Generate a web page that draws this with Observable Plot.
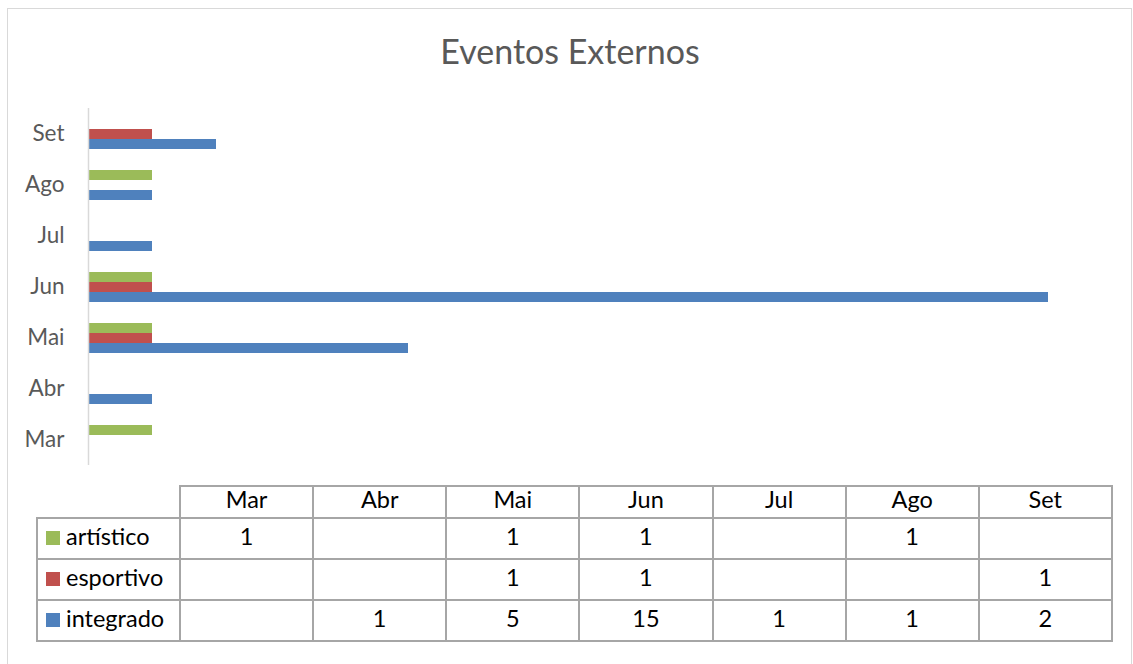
<!DOCTYPE html>
<html>
<head>
<meta charset="utf-8">
<script src="https://cdn.jsdelivr.net/npm/d3@7"></script>
<script src="https://cdn.jsdelivr.net/npm/@observablehq/plot@0.6"></script>
<style>
  html, body { margin: 0; padding: 0; background: #fff; }
  body { width: 1133px; height: 664px; position: relative; overflow: hidden; font-family: Lato, "Open Sans", sans-serif; }
  #frame { position: absolute; left: 7px; top: 8px; width: 1125px; height: 670px; border: 1.5px solid #d9d9d9; box-sizing: border-box; }
  #title { position: absolute; left: 7px; width: 1126px; top: 30px; text-align: center; font-size: 34px; color: #595959; }
  #chart { position: absolute; left: 0; top: 108px; }
  #tbl { position: absolute; left: 36px; top: 485px; border-collapse: collapse; font-size: 23.5px; color: #000; }
  #tbl td { border: 2px solid #a6a6a6; text-align: center; padding: 0 0 4px 0; box-sizing: border-box; line-height: 1; }
  #tbl tr.h td { height: 32px; }
  #tbl tr.r td { height: 41px; }
  #tbl td.blank { border: none; }
  #tbl td.lab { text-align: left; padding-left: 8px; white-space: nowrap; }
  .sw { display: inline-block; width: 14px; height: 14px; margin-right: 6px; vertical-align: 0px; }
</style>
</head>
<body>
<div id="frame"></div>
<div id="title">Eventos Externos</div>
<div id="chart"></div>
<table id="tbl"></table>
<script>
const months = ["Mar", "Abr", "Mai", "Jun", "Jul", "Ago", "Set"];
const seriesNames = ["artístico", "esportivo", "integrado"];
const seriesColors = ["#9bbb59", "#c0504d", "#4f81bd"];
const artistico = [1, null, 1, 1, null, 1, null];
const esportivo = [null, null, 1, 1, null, null, 1];
const integrado = [null, 1, 5, 15, 1, 1, 2];

const seriesValues = [artistico, esportivo, integrado];
const rows = [];
seriesNames.forEach((s, si) => {
  months.forEach((m, mi) => {
    const v = seriesValues[si][mi];
    if (v != null) rows.push({month: m, series: s, value: v});
  });
});

const chart = Plot.plot({
  width: 1133,
  height: 357,
  marginLeft: 88,
  marginRight: 21,
  marginTop: 0,
  marginBottom: 0,
  style: {fontFamily: "Lato, 'Open Sans', sans-serif", fontSize: "22.5px", color: "#595959", background: "transparent"},
  fy: {domain: months.slice().reverse(), padding: 0, axis: "left", tickSize: 0, tickPadding: 24, label: null},
  y: {domain: seriesNames, axis: null, paddingInner: 0, paddingOuter: 0.89},
  x: {domain: [0, 16], axis: null},
  color: {domain: seriesNames, range: seriesColors},
  marks: [
    Plot.barX(rows, {fy: "month", y: "series", x: "value", fill: "series"}),
    Plot.ruleX([0], {stroke: "#d9d9d9", strokeWidth: 1.5})
  ]
});
document.getElementById("chart").appendChild(chart);

// data table
const tbl = document.getElementById("tbl");
const colW = 133.14;
let html = '<tr class="h"><td class="blank" style="width:143px"></td>';
months.forEach(m => { html += `<td style="width:${colW}px">${m}</td>`; });
html += "</tr>";
seriesNames.forEach((s, si) => {
  html += `<tr class="r"><td class="lab"><span class="sw" style="background:${seriesColors[si]}"></span>${s}</td>`;
  months.forEach((m, mi) => {
    const v = seriesValues[si][mi];
    html += `<td>${v == null ? "" : v}</td>`;
  });
  html += "</tr>";
});
tbl.innerHTML = html;
</script>
</body>
</html>
